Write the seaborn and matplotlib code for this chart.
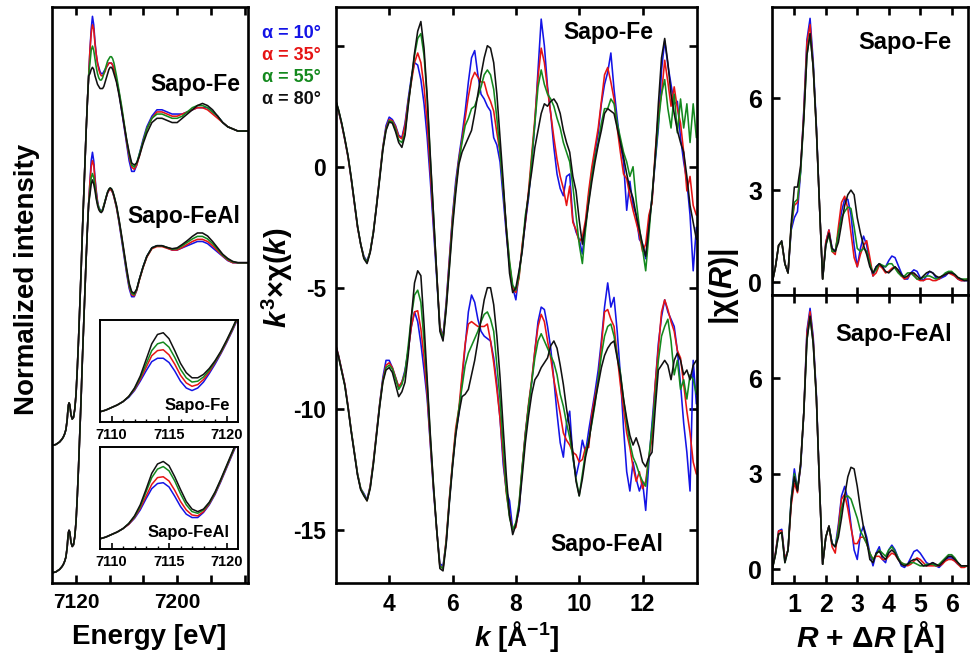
import numpy as np
import pandas as pd
import matplotlib
matplotlib.use("Agg")
import matplotlib.pyplot as plt
import seaborn as sns

# ---------------------------------------------------------------- data
ANGLES = ["10", "35", "55", "80"]
PALETTE = {"10": "#1414e6", "35": "#e61414", "55": "#14891e", "80": "#111111"}
LEGEND_LABELS = ["α = 10°", "α = 35°", "α = 55°", "α = 80°"]

# XANES: common pre-edge / edge rise, then angle-dependent white line and post-edge
xanes_E_edge = [7101, 7104, 7107, 7109, 7110, 7111, 7112, 7113, 7113.5, 7114, 7114.5, 7115,
                7115.5, 7116, 7117, 7118, 7119, 7120, 7121, 7122, 7123, 7124, 7125, 7126,
                7127, 7128, 7129, 7130]
xanes_edge_norm = [0.0, 0.002, 0.008, 0.015, 0.02, 0.027, 0.037, 0.06, 0.08, 0.095, 0.1, 0.096,
                   0.085, 0.072, 0.062, 0.066, 0.085, 0.12, 0.18, 0.25, 0.33, 0.41, 0.5, 0.58,
                   0.66, 0.74, 0.81, 0.87]
xanes_E_post = [7131, 7132, 7133, 7134, 7135, 7136, 7137, 7138, 7139, 7140,
                7141, 7142, 7143, 7144, 7145, 7146, 7147, 7148, 7149, 7150,
                7152, 7154, 7156, 7158, 7160, 7162, 7164, 7166, 7168, 7170,
                7173, 7176,
                7180, 7184, 7188, 7192, 7196, 7200, 7204, 7208, 7212, 7216,
                7220, 7224, 7228, 7232, 7236, 7240, 7244, 7248, 7252, 7256]

xanes_fe = {
    "10": [0.93, 0.98, 1.01, 0.99, 0.95, 0.92, 0.90, 0.89, 0.88, 0.875,
           0.875, 0.88, 0.885, 0.89, 0.895, 0.9, 0.9, 0.9, 0.895, 0.885,
           0.86, 0.83, 0.79, 0.75, 0.71, 0.67, 0.645, 0.645, 0.66, 0.685,
           0.72, 0.75,
           0.775, 0.79, 0.79, 0.785, 0.78, 0.78, 0.78, 0.785, 0.79, 0.795,
           0.795, 0.795, 0.785, 0.775, 0.76, 0.75, 0.745, 0.74, 0.74, 0.74],
    "35": [0.93, 0.97, 0.99, 0.98, 0.945, 0.92, 0.90, 0.885, 0.875, 0.87,
           0.87, 0.875, 0.88, 0.89, 0.895, 0.9, 0.9, 0.9, 0.895, 0.885,
           0.86, 0.83, 0.795, 0.755, 0.715, 0.68, 0.655, 0.65, 0.66, 0.68,
           0.715, 0.745,
           0.77, 0.785, 0.785, 0.78, 0.775, 0.775, 0.78, 0.785, 0.79, 0.795,
           0.795, 0.79, 0.78, 0.77, 0.76, 0.75, 0.745, 0.74, 0.74, 0.74],
    "55": [0.9, 0.93, 0.94, 0.93, 0.91, 0.89, 0.875, 0.865, 0.86, 0.86,
           0.865, 0.875, 0.885, 0.895, 0.905, 0.91, 0.915, 0.915, 0.91, 0.9,
           0.87, 0.835, 0.8, 0.76, 0.72, 0.685, 0.66, 0.655, 0.665, 0.685,
           0.715, 0.745,
           0.77, 0.78, 0.78, 0.775, 0.77, 0.77, 0.775, 0.785, 0.795, 0.8,
           0.8, 0.795, 0.785, 0.775, 0.76, 0.75, 0.745, 0.74, 0.74, 0.74],
    "80": [0.875, 0.885, 0.89, 0.885, 0.87, 0.86, 0.85, 0.845, 0.84, 0.84,
           0.84, 0.845, 0.855, 0.865, 0.875, 0.885, 0.89, 0.89, 0.885, 0.875,
           0.855, 0.825, 0.79, 0.755, 0.72, 0.69, 0.665, 0.66, 0.665, 0.68,
           0.71, 0.735,
           0.76, 0.77, 0.77, 0.765, 0.76, 0.76, 0.77, 0.78, 0.79, 0.8,
           0.805, 0.8, 0.79, 0.775, 0.76, 0.75, 0.745, 0.74, 0.74, 0.74],
}
xanes_feal = {
    "10": [0.92, 0.97, 0.99, 0.97, 0.93, 0.9, 0.875, 0.86, 0.855, 0.85,
           0.855, 0.865, 0.875, 0.885, 0.895, 0.9, 0.905, 0.9, 0.895, 0.885,
           0.86, 0.825, 0.785, 0.745, 0.705, 0.67, 0.65, 0.65, 0.665, 0.69,
           0.72, 0.745,
           0.765, 0.77, 0.77, 0.765, 0.76, 0.76, 0.765, 0.77, 0.775, 0.78,
           0.78, 0.775, 0.765, 0.755, 0.745, 0.735, 0.73, 0.73, 0.73, 0.73],
    "35": [0.92, 0.955, 0.97, 0.96, 0.925, 0.895, 0.872, 0.858, 0.852, 0.85,
           0.855, 0.865, 0.875, 0.885, 0.895, 0.9, 0.903, 0.9, 0.895, 0.885,
           0.86, 0.827, 0.79, 0.75, 0.71, 0.675, 0.655, 0.652, 0.665, 0.688,
           0.718, 0.743,
           0.763, 0.768, 0.768, 0.764, 0.76, 0.76, 0.766, 0.773, 0.78, 0.785,
           0.785, 0.78, 0.77, 0.758, 0.746, 0.736, 0.73, 0.73, 0.73, 0.73],
    "55": [0.9, 0.93, 0.94, 0.93, 0.91, 0.885, 0.87, 0.86, 0.853, 0.85,
           0.855, 0.865, 0.876, 0.887, 0.897, 0.903, 0.906, 0.904, 0.898, 0.888,
           0.863, 0.83, 0.792, 0.752, 0.713, 0.678, 0.658, 0.655, 0.667, 0.69,
           0.72, 0.745,
           0.765, 0.77, 0.77, 0.766, 0.762, 0.763, 0.77, 0.778, 0.786, 0.792,
           0.792, 0.786, 0.775, 0.762, 0.748, 0.738, 0.732, 0.73, 0.73, 0.73],
    "80": [0.89, 0.915, 0.925, 0.915, 0.9, 0.88, 0.865, 0.855, 0.85, 0.848,
           0.852, 0.862, 0.874, 0.886, 0.896, 0.903, 0.906, 0.904, 0.898, 0.888,
           0.865, 0.832, 0.795, 0.756, 0.717, 0.682, 0.662, 0.658, 0.668, 0.69,
           0.72, 0.745,
           0.765, 0.77, 0.77, 0.766, 0.763, 0.765, 0.773, 0.782, 0.792, 0.8,
           0.8, 0.793, 0.78, 0.765, 0.75, 0.74, 0.733, 0.73, 0.73, 0.73],
}
XANES_FE_SHIFT = 0.3  # vertical shift of the Sapo-Fe spectra

# pre-edge detail (insets)
pre_E = [7109.0, 7109.5, 7110.0, 7110.5, 7111.0, 7111.5, 7112.0, 7112.5, 7113.0, 7113.5,
         7114.0, 7114.5, 7115.0, 7115.5, 7116.0, 7116.5, 7117.0, 7117.5, 7118.0, 7118.5,
         7119.0, 7119.5, 7120.0, 7120.5, 7121.0]
pre_fe = {
    "10": [0.022, 0.024, 0.027, 0.030, 0.034, 0.039, 0.047, 0.058, 0.070, 0.081, 0.085, 0.085, 0.080,
           0.070, 0.058, 0.050, 0.047, 0.050, 0.057, 0.067, 0.078, 0.090, 0.103, 0.117, 0.132],
    "35": [0.022, 0.024, 0.027, 0.030, 0.034, 0.040, 0.048, 0.060, 0.074, 0.088, 0.094, 0.095, 0.089,
           0.078, 0.065, 0.056, 0.052, 0.054, 0.060, 0.069, 0.080, 0.091, 0.104, 0.118, 0.133],
    "55": [0.022, 0.024, 0.027, 0.030, 0.034, 0.040, 0.049, 0.062, 0.078, 0.094, 0.102, 0.104, 0.098,
           0.086, 0.072, 0.062, 0.057, 0.058, 0.063, 0.071, 0.081, 0.092, 0.105, 0.119, 0.134],
    "80": [0.022, 0.024, 0.027, 0.030, 0.034, 0.040, 0.050, 0.064, 0.083, 0.102, 0.113, 0.115, 0.108,
           0.094, 0.079, 0.068, 0.062, 0.062, 0.066, 0.073, 0.082, 0.093, 0.106, 0.120, 0.135],
}
pre_feal = {
    "10": [0.022, 0.024, 0.027, 0.030, 0.034, 0.039, 0.046, 0.056, 0.069, 0.081, 0.087, 0.088, 0.083,
           0.072, 0.060, 0.051, 0.047, 0.047, 0.053, 0.062, 0.074, 0.089, 0.105, 0.121, 0.137],
    "35": [0.022, 0.024, 0.027, 0.030, 0.034, 0.039, 0.047, 0.058, 0.072, 0.086, 0.094, 0.095, 0.090,
           0.079, 0.066, 0.056, 0.050, 0.049, 0.054, 0.063, 0.075, 0.090, 0.106, 0.122, 0.138],
    "55": [0.022, 0.024, 0.027, 0.030, 0.034, 0.040, 0.048, 0.060, 0.077, 0.094, 0.104, 0.107, 0.102,
           0.090, 0.075, 0.062, 0.054, 0.052, 0.056, 0.064, 0.076, 0.091, 0.107, 0.123, 0.139],
    "80": [0.022, 0.024, 0.027, 0.030, 0.034, 0.040, 0.049, 0.062, 0.080, 0.099, 0.110, 0.113, 0.108,
           0.095, 0.080, 0.066, 0.057, 0.054, 0.057, 0.065, 0.077, 0.092, 0.108, 0.124, 0.140],
}

# EXAFS k^3 chi(k), k = 2.3 ... 13.7 in steps of 0.1
k_grid = np.round(np.arange(2.3, 13.75, 0.1), 1)
chi_fe = {
    "10": [2.75, 2.3, 1.75, 1.1, 0.4, -0.5, -1.5, -2.5, -3.2, -3.7,
           -3.9, -3.5, -2.7, -1.6, -0.4, 0.8, 1.7, 2.05, 1.95, 1.7,
           1.3, 1.2, 1.8, 2.8, 3.7, 4.3, 4.2, 3.6, 2.6, 1.2,
           -0.6, -2.6, -4.6, -6.6, -7.0, -5.6, -3.8, -2.0, -0.6, 0.4,
           1.3, 2.3, 3.5, 4.5, 4.8, 3.8, 3.0, 2.8, 2.5, 2.3,
           1.2, 0.9, 0.2, -1.3, -2.8, -4.1, -5.0, -5.5, -4.4, -3.4,
           -2.3, -1.3, 0.2, 1.8, 4.0, 6.1, 5.0, 3.3, 2.2, 0.8,
           -0.3, -0.9, -1.2, -0.4, -0.3, -2.2, -2.7, -3.0, -3.6, -2.4,
           -1.2, -0.2, 0.6, 1.4, 2.6, 3.4, 3.9, 4.7, 3.2, 2.0,
           0.9, 0.2, -1.8, -0.6, -1.6, -2.0, -3.0, -3.2, -3.8, -2.4,
           -1.3, 0.2, 1.6, 4.0, 5.2, 4.2, 3.4, 2.6, 2.7, 1.2,
           0.2, -0.6, -2.0, -4.3, -2.5],
    "35": [2.75, 2.3, 1.75, 1.1, 0.4, -0.5, -1.5, -2.5, -3.2, -3.75,
           -3.95, -3.5, -2.7, -1.6, -0.4, 0.8, 1.6, 1.95, 1.9, 1.65,
           1.25, 1.15, 1.7, 2.7, 3.5, 4.3, 4.7, 4.3, 3.3, 1.8,
           -0.2, -2.3, -4.4, -6.6, -7.1, -5.7, -3.9, -2.1, -0.8, 0.3,
           1.1, 2.0, 2.9, 3.6, 3.9, 3.7, 3.5, 3.5, 3.0, 2.7,
           2.3, 1.4, 0.6, -0.9, -2.6, -4.0, -5.0, -5.2, -4.6, -3.2,
           -2.3, -1.0, 0.5, 2.0, 3.7, 4.9, 4.3, 3.2, 2.2, 1.2,
           0.3, -0.4, -0.9, -1.6, -0.8, -2.3, -2.6, -3.1, -2.9, -2.2,
           -1.0, 0.0, 0.8, 1.6, 2.7, 3.8, 4.1, 3.5, 2.8, 1.6,
           0.6, -0.3, -0.5, -1.2, -1.8, -2.3, -2.8, -3.5, -3.2, -2.0,
           -1.5, 0.6, 2.2, 3.0, 4.4, 3.5, 2.5, 3.3, 2.4, 1.8,
           0.6, -1.0, -0.4, -1.6, -2.0],
    "55": [2.8, 2.35, 1.8, 1.15, 0.45, -0.45, -1.45, -2.45, -3.2, -3.75,
           -3.95, -3.5, -2.7, -1.6, -0.45, 0.75, 1.55, 1.9, 1.85, 1.55,
           1.1, 1.0, 1.4, 2.6, 3.6, 4.6, 5.3, 5.5, 4.6, 2.8,
           0.3, -2.0, -4.4, -6.7, -7.1, -5.8, -4.1, -2.3, -0.9, 0.2,
           1.0, 1.7, 2.0, 2.4, 2.5, 2.9, 3.3, 3.8, 4.0, 3.8,
           3.2, 2.0, 0.6, -0.9, -2.5, -3.9, -4.9, -5.1, -4.5, -3.4,
           -2.0, -1.2, 0.3, 1.8, 3.3, 4.0, 3.4, 3.0, 2.8, 2.5,
           2.0, 1.6, 1.0, 0.6, 0.2, -0.8, -2.0, -3.2, -4.0, -2.6,
           -1.4, -0.4, 0.4, 1.0, 1.8, 2.4, 2.4, 2.8, 2.6, 1.8,
           1.2, 0.6, 0.2, -0.4, 0.0, -1.4, -2.5, -3.4, -4.3, -2.8,
           -1.2, 0.3, 1.8, 3.0, 3.6, 2.4, 1.6, 3.0, 1.4, 2.8,
           1.6, 2.6, 1.0, 2.6, 1.2],
    "80": [2.8, 2.35, 1.8, 1.15, 0.45, -0.45, -1.45, -2.45, -3.2, -3.8,
           -4.0, -3.55, -2.75, -1.65, -0.5, 0.7, 1.5, 1.85, 1.8, 1.45,
           1.0, 0.8, 1.3, 2.5, 3.6, 4.7, 5.6, 6.0, 4.9, 2.9,
           0.4, -2.0, -4.4, -6.8, -7.2, -5.9, -4.2, -2.5, -1.1, 0.1,
           0.6, 0.9, 1.2, 1.5, 2.2, 3.0, 3.8, 4.5, 5.0, 4.9,
           4.3, 3.0, 1.2, -0.6, -2.6, -4.4, -5.2, -5.0, -4.3, -3.5,
           -2.2, -1.1, -0.2, 0.8, 1.5, 2.2, 2.6, 2.5, 2.7, 2.8,
           2.6, 2.2, 1.5, 1.0, 0.6, -0.4, -1.0, -2.2, -3.2, -2.4,
           -1.5, -0.6, 0.2, 0.9, 1.5, 2.2, 2.4, 2.3, 2.2, 1.6,
           1.0, 0.4, -0.3, -0.9, -1.3, -2.0, -2.6, -3.2, -3.7, -2.5,
           -1.3, 0.4, 2.6, 4.5, 5.3, 4.3, 3.0, 2.2, 1.5, 1.0,
           0.6, -0.4, -1.6, -2.3, -3.0],
}
chi_feal = {
    "10": [-7.3, -7.8, -8.4, -9.0, -9.9, -10.9, -11.8, -12.7, -13.3, -13.5,
           -13.75, -13.2, -12.2, -11.0, -9.8, -8.7, -8.0, -8.0, -8.3, -8.7,
           -9.1, -8.9, -8.4, -7.6, -6.6, -6.0, -6.4, -7.3, -8.4, -9.6,
           -11.5, -13.4, -15.0, -16.4, -16.5, -15.5, -13.8, -12.3, -11.0, -10.2,
           -8.8, -7.4, -6.0, -5.3, -5.6, -6.3, -6.8, -7.0, -7.1, -7.2,
           -7.9, -9.0, -10.4, -12.3, -13.4, -13.8, -15.0, -14.8, -14.2, -12.5,
           -11.0, -9.9, -8.9, -7.6, -6.4, -5.8, -5.9, -6.6, -7.5, -8.8,
           -10.2, -11.4, -12.0, -10.6, -10.1, -12.0, -12.8, -12.2, -11.3, -11.8,
           -10.9, -10.1, -9.3, -8.4, -7.2, -5.8, -4.8, -5.8, -5.4, -6.8,
           -8.6, -10.8, -12.6, -13.4, -12.2, -12.9, -13.4, -13.0, -14.2, -12.2,
           -10.6, -9.0, -7.3, -6.2, -5.5, -6.0, -6.3, -6.6, -7.6, -9.0,
           -10.6, -11.8, -13.4, -8.0, -9.8],
    "35": [-7.3, -7.8, -8.4, -9.0, -9.9, -10.9, -11.8, -12.7, -13.3, -13.55,
           -13.8, -13.2, -12.2, -11.0, -9.8, -8.8, -8.2, -8.1, -8.3, -8.7,
           -9.1, -8.9, -8.5, -7.6, -6.6, -6.0, -5.95, -6.7, -7.9, -9.4,
           -11.4, -13.3, -15.0, -16.5, -16.6, -15.4, -13.7, -12.2, -10.8, -10.0,
           -8.6, -7.3, -6.5, -6.4, -6.5, -6.6, -6.6, -6.6, -6.5, -7.2,
           -8.1, -9.2, -10.4, -12.0, -13.5, -14.4, -15.0, -14.9, -14.0, -12.4,
           -11.0, -9.8, -8.8, -7.6, -6.6, -6.1, -6.4, -7.2, -7.9, -8.8,
           -9.5, -10.2, -11.0, -11.3, -11.5, -11.8, -11.9, -12.2, -12.1, -11.6,
           -11.6, -10.2, -9.5, -8.8, -7.4, -6.0, -5.9, -6.3, -6.6, -7.8,
           -9.0, -10.0, -11.0, -11.6, -12.4, -13.0, -12.6, -13.3, -13.0, -12.0,
           -11.2, -9.0, -7.5, -6.0, -5.5, -5.9, -6.4, -6.8, -7.6, -7.9,
           -9.0, -10.1, -11.0, -12.2, -12.7],
    "55": [-7.35, -7.85, -8.45, -9.05, -9.95, -10.9, -11.8, -12.7, -13.3, -13.55,
           -13.8, -13.25, -12.25, -11.05, -9.85, -8.85, -8.3, -8.2, -8.35, -8.75,
           -9.2, -9.0, -8.5, -7.4, -6.2, -5.3, -5.1, -5.6, -7.2, -9.0,
           -11.2, -13.2, -15.0, -16.5, -16.6, -15.5, -13.8, -12.3, -11.0, -10.0,
           -9.1, -8.2, -7.7, -7.4, -7.1, -6.8, -6.4, -6.1, -6.0, -6.3,
           -6.8, -8.2, -9.6, -11.6, -13.4, -14.5, -15.0, -14.7, -13.9, -12.4,
           -11.1, -9.9, -8.9, -7.9, -7.2, -6.9, -7.2, -7.5, -7.8, -8.1,
           -8.6, -9.4, -9.9, -10.6, -11.2, -12.0, -12.9, -13.6, -12.7, -11.8,
           -11.3, -10.6, -9.8, -8.8, -7.8, -7.0, -6.6, -6.5, -7.0, -7.8,
           -8.5, -9.6, -10.6, -11.4, -12.0, -12.3, -12.7, -13.0, -13.2, -12.0,
           -10.8, -9.5, -8.0, -7.0, -6.6, -6.3, -7.2, -8.6, -8.0, -9.2,
           -8.8, -9.6, -8.6, -8.8, -9.4],
    "80": [-7.35, -7.85, -8.45, -9.05, -9.95, -10.95, -11.85, -12.75, -13.35, -13.6,
           -13.8, -13.3, -12.3, -11.1, -9.9, -8.9, -8.4, -8.3, -8.5, -9.0,
           -9.5, -9.3, -8.9, -7.8, -6.2, -4.8, -4.3, -4.5, -6.5, -8.8,
           -11.1, -13.2, -15.0, -16.6, -16.7, -15.6, -13.9, -12.4, -11.1, -10.2,
           -9.5, -9.4, -9.2, -8.6, -8.0, -7.2, -6.3, -5.5, -5.0, -5.0,
           -5.7, -7.0, -8.7, -10.8, -12.8, -14.4, -15.2, -14.8, -14.1, -12.8,
           -11.4, -10.3, -9.4, -8.8, -8.6, -8.3, -8.1, -7.9, -7.4, -7.2,
           -7.5, -8.2, -9.0, -10.0, -10.8, -11.8, -13.0, -13.6, -12.9, -12.0,
           -11.4, -10.5, -9.7, -9.0, -8.3, -7.8, -7.5, -7.3, -7.2, -7.9,
           -8.6, -9.6, -10.4, -11.1, -11.5, -11.2, -11.6, -12.2, -12.4, -12.0,
           -11.8, -10.0, -8.4, -8.2, -8.0, -8.2, -8.8, -8.0, -7.7, -8.0,
           -8.6, -8.4, -8.8, -8.2, -8.0],
}

# Fourier transform magnitude |chi(R)|, R = 0.3 ... 6.5 in steps of 0.1
r_grid = np.round(np.arange(0.3, 6.55, 0.1), 1)
ft_fe = {
    "10": [0.0, 0.5, 1.2, 1.3, 0.6, 0.3, 1.7, 2.1, 2.3, 3.6, 5.6, 7.9, 8.6, 7.2, 5.1, 2.5, 0.1,
           1.3, 1.7, 1.1, 1.0, 1.6, 2.3, 2.7, 2.7, 2.2, 1.2, 0.5, 1.1, 1.5, 1.2, 0.6, 0.2,
           0.5, 0.6, 0.5, 0.5, 0.7, 0.85, 0.8, 0.55, 0.3, 0.1, 0.1, 0.3, 0.4, 0.35, 0.15, 0.05,
           0.2, 0.35, 0.3, 0.15, 0.1, 0.15, 0.2, 0.3, 0.3, 0.2, 0.1, 0.05, 0.05, 0.05],
    "35": [0.0, 0.5, 1.2, 1.3, 0.6, 0.3, 1.8, 2.5, 2.6, 3.7, 5.5, 7.8, 8.4, 7.0, 5.0, 2.5, 0.1,
           1.3, 1.7, 1.0, 0.9, 1.8, 2.6, 2.8, 2.4, 1.6, 0.8, 0.5, 0.9, 1.2, 1.35, 0.8, 0.2,
           0.3, 0.55, 0.45, 0.3, 0.35, 0.45, 0.5, 0.35, 0.2, 0.1, 0.15, 0.3, 0.25, 0.1, 0.05, 0.05,
           0.1, 0.1, 0.05, 0.05, 0.1, 0.2, 0.25, 0.3, 0.25, 0.2, 0.1, 0.05, 0.05, 0.1],
    "55": [0.0, 0.5, 1.2, 1.3, 0.6, 0.3, 1.8, 2.6, 2.7, 3.6, 5.3, 7.4, 8.1, 7.0, 5.0, 2.5, 0.1,
           1.2, 1.55, 1.0, 1.0, 1.6, 2.1, 2.3, 2.45, 2.4, 1.8, 1.1, 1.0, 1.1, 1.0, 0.6, 0.3,
           0.4, 0.6, 0.55, 0.5, 0.6, 0.6, 0.45, 0.3, 0.2, 0.2, 0.3, 0.3, 0.2, 0.1, 0.1, 0.15,
           0.2, 0.2, 0.15, 0.1, 0.15, 0.2, 0.3, 0.35, 0.35, 0.25, 0.15, 0.1, 0.1, 0.1],
    "80": [0.0, 0.5, 1.2, 1.35, 0.6, 0.3, 1.9, 3.1, 3.1, 3.8, 5.3, 7.4, 8.1, 7.0, 5.0, 2.5, 0.1,
           1.2, 1.6, 1.1, 1.0, 1.3, 1.9, 2.5, 2.85, 3.0, 2.85, 2.1, 1.6, 1.2, 0.9, 0.5, 0.3,
           0.5, 0.6, 0.5, 0.35, 0.3, 0.4, 0.5, 0.4, 0.25, 0.15, 0.2, 0.3, 0.3, 0.2, 0.1, 0.2,
           0.3, 0.35, 0.3, 0.2, 0.15, 0.2, 0.25, 0.3, 0.3, 0.25, 0.15, 0.1, 0.05, 0.05],
}
ft_feal = {
    "10": [0.0, 0.5, 1.2, 1.25, 0.3, 0.6, 2.2, 3.15, 2.5, 3.2, 4.9, 7.5, 8.2, 7.3, 5.5, 2.6, 0.15,
           1.0, 1.35, 0.8, 0.7, 1.4, 2.3, 2.6, 2.2, 1.4, 0.6, 0.3, 1.1, 1.35, 1.0, 0.5, 0.1,
           0.5, 0.7, 0.3, 0.2, 0.6, 0.75, 0.6, 0.35, 0.1, 0.05, 0.15, 0.35, 0.55, 0.6, 0.5, 0.35,
           0.2, 0.15, 0.2, 0.1, 0.05, 0.15, 0.3, 0.35, 0.35, 0.25, 0.15, 0.1, 0.1, 0.1],
    "35": [0.0, 0.5, 1.2, 1.2, 0.3, 0.6, 2.0, 2.7, 2.4, 3.3, 4.9, 7.4, 8.1, 7.2, 5.4, 2.6, 0.15,
           1.0, 1.35, 0.7, 0.5, 1.3, 2.2, 2.35, 1.9, 1.3, 0.8, 0.8, 1.0, 1.0, 0.8, 0.5, 0.3,
           0.4, 0.4, 0.3, 0.3, 0.4, 0.5, 0.45, 0.3, 0.2, 0.15, 0.1, 0.15, 0.25, 0.35, 0.3, 0.2,
           0.1, 0.1, 0.1, 0.1, 0.1, 0.15, 0.25, 0.3, 0.3, 0.25, 0.15, 0.05, 0.05, 0.1],
    "55": [0.0, 0.45, 1.1, 1.15, 0.2, 0.6, 2.2, 3.0, 2.5, 3.3, 4.9, 7.2, 7.95, 7.1, 5.4, 2.6, 0.15,
           1.0, 1.35, 0.8, 0.7, 1.2, 1.9, 2.25, 2.3, 2.2, 1.9, 1.6, 1.2, 1.0, 0.8, 0.5, 0.3,
           0.45, 0.6, 0.5, 0.4, 0.6, 0.7, 0.55, 0.35, 0.2, 0.15, 0.15, 0.2, 0.2, 0.15, 0.1, 0.1,
           0.15, 0.15, 0.15, 0.1, 0.15, 0.25, 0.35, 0.45, 0.45, 0.35, 0.2, 0.1, 0.1, 0.1],
    "80": [0.0, 0.45, 1.1, 1.15, 0.2, 0.6, 2.1, 2.9, 2.45, 3.3, 4.9, 7.2, 7.95, 7.1, 5.4, 2.6, 0.15,
           1.0, 1.35, 0.8, 0.7, 1.0, 1.6, 2.3, 2.9, 3.2, 3.15, 2.6, 1.9, 1.3, 0.9, 0.3, 0.2,
           0.5, 0.55, 0.4, 0.3, 0.5, 0.6, 0.5, 0.3, 0.15, 0.1, 0.15, 0.25, 0.3, 0.3, 0.2, 0.1,
           0.1, 0.15, 0.2, 0.15, 0.1, 0.2, 0.3, 0.4, 0.4, 0.3, 0.2, 0.1, 0.1, 0.1],
}

# ---------------------------------------------------------------- style
sns.set_theme(style="ticks")
plt.rcParams["font.family"] = ["Liberation Sans", "DejaVu Sans"]
plt.rcParams["font.weight"] = "bold"
plt.rcParams["mathtext.fontset"] = "custom"
plt.rcParams["mathtext.rm"] = "Liberation Sans:bold"
plt.rcParams["mathtext.it"] = "Liberation Sans:italic:bold"
plt.rcParams["mathtext.bf"] = "Liberation Sans:bold"
for key in ("text.color", "axes.labelcolor", "xtick.color", "ytick.color", "axes.edgecolor"):
    plt.rcParams[key] = "black"

W, H = 971, 661
fig = plt.figure(figsize=(W / 100, H / 100), dpi=100)
fig.patch.set_facecolor("white")


def box(x0, y0, x1, y1):
    """Axes rectangle given pixel edges (top-left origin)."""
    return [x0 / W, 1 - y1 / H, (x1 - x0) / W, (y1 - y0) / H]


def px(x, y):
    return x / W, 1 - y / H


def draw(ax, x, series, shift=0.0, lw=1.15):
    frames = [pd.DataFrame({"x": x, "y": np.asarray(series[a], float) + shift, "angle": a})
              for a in ANGLES]
    df = pd.concat(frames, ignore_index=True)
    sns.lineplot(data=df, x="x", y="y", hue="angle", hue_order=ANGLES, palette=PALETTE,
                 sort=False, estimator=None, lw=lw, legend=False, ax=ax)
    ax.set_xlabel("")
    ax.set_ylabel("")


def frame(ax, lw=1.9):
    ax.set_facecolor("white")
    for s in ax.spines.values():
        s.set_visible(True)
        s.set_color("black")
        s.set_linewidth(lw)


def tick(size):
    return dict(direction="in", width=1.9, length=6, color="black", labelsize=size, pad=7)


# ---------------------------------------------------------------- XANES
ax1 = fig.add_axes(box(52, 7, 248, 583))
E_full = xanes_E_edge + xanes_E_post
draw(ax1, E_full, {a: xanes_edge_norm + xanes_feal[a] for a in ANGLES})
draw(ax1, E_full, {a: xanes_edge_norm + xanes_fe[a] for a in ANGLES}, shift=XANES_FE_SHIFT)
frame(ax1)
ax1.set_xlim(7101, 7256)
ax1.set_ylim(-0.024, 1.332)
e_ticks = [7120 + i * 80 / 3 for i in range(6)]
ax1.set_xticks(e_ticks)
ax1.set_xticklabels(["7120", "", "", "7200", "", ""])
ax1.set_yticks([])
ax1.tick_params(axis="x", top=True, bottom=True, **tick(15))
ax1.text(0.96, 1 - 77 / 576, "Sapo-Fe", transform=ax1.transAxes, ha="right", va="center",
         fontsize=16.5, fontweight="bold")
ax1.text(0.96, 1 - 210 / 576, "Sapo-FeAl", transform=ax1.transAxes, ha="right", va="center",
         fontsize=16.5, fontweight="bold")

for (y0, y1, data, name) in [(320, 422, pre_fe, "Sapo-Fe"), (447, 549, pre_feal, "Sapo-FeAl")]:
    ins = fig.add_axes(box(100, y0, 238, y1))
    draw(ins, pre_E, data, lw=1.1)
    frame(ins, lw=1.4)
    ins.set_xlim(7109.0, 7121.0)
    ins.set_ylim(0.01, 0.13)
    ins.set_yticks([])
    ins.set_xticks([7110, 7115, 7120])
    ins.set_xticks(np.arange(7110, 7121, 1.0), minor=True)
    ins.tick_params(axis="x", which="major", direction="in", length=4, width=1.2,
                    labelsize=10.5, pad=4, color="black")
    ins.tick_params(axis="x", which="minor", direction="in", length=2.5, width=1.0, color="black")
    ins.text(0.94, 0.16, name, transform=ins.transAxes, ha="right", va="center",
             fontsize=12, fontweight="bold")

# ---------------------------------------------------------------- k space
ax2 = fig.add_axes(box(336, 7, 697, 583))
draw(ax2, k_grid, chi_fe)
draw(ax2, k_grid, chi_feal)
frame(ax2)
ax2.set_xlim(2.32, 13.72)
ax2.set_ylim(-17.2, 6.6)
ax2.set_xticks([4, 6, 8, 10, 12])
ax2.set_yticks([5, 0, -5, -10, -15])
ax2.set_yticklabels(["", "0", "-5", "-10", "-15"])
ax2.tick_params(top=True, bottom=True, left=True, right=True, **tick(16.5))
fig.text(*px(608, 33), "Sapo-Fe", ha="center", va="center", fontsize=16.5, fontweight="bold")
fig.text(*px(607, 545), "Sapo-FeAl", ha="center", va="center", fontsize=16.5, fontweight="bold")

# ---------------------------------------------------------------- R space
axr1 = fig.add_axes(box(772, 7, 968, 295))
axr2 = fig.add_axes(box(772, 295, 968, 583))
for ax, data, name, lx, ty, ylim in [(axr1, ft_fe, "Sapo-Fe", 905, 42, (-0.42, 8.97)),
                                     (axr2, ft_feal, "Sapo-FeAl", 894, 335, (-0.44, 8.62))]:
    draw(ax, r_grid, data)
    frame(ax)
    ax.set_xlim(0.29, 6.52)
    ax.set_ylim(*ylim)
    ax.set_xticks([1, 2, 3, 4, 5, 6])
    ax.set_yticks([0, 3, 6])
    ax.tick_params(top=True, bottom=True, left=True, right=False, **tick(18))
    fig.text(*px(lx, ty), name, ha="center", va="center", fontsize=17, fontweight="bold")
axr1.tick_params(labelbottom=False)

# ---------------------------------------------------------------- labels and legend
fig.text(*px(27, 279), "Normalized intensity", rotation=90, ha="center", va="center",
         fontsize=20, fontweight="bold")
fig.text(*px(149, 637), "Energy [eV]", ha="center", va="center", fontsize=20, fontweight="bold")
fig.text(*px(277, 278), r"$k^3$×χ($k$)", rotation=90, ha="center", va="center",
         fontsize=21, fontweight="bold")
fig.text(*px(517, 637), r"$k$ [Å$^{-1}$]", ha="center", va="center", fontsize=20,
         fontweight="bold")
fig.text(*px(870, 637), r"$R$ + Δ$R$ [Å]", ha="center", va="center", fontsize=21.5,
         fontweight="bold")
fig.text(*px(724, 287), r"|χ($R$)|", rotation=90, ha="center", va="center", fontsize=22,
         fontweight="bold")

for i, (a, lab) in enumerate(zip(ANGLES, LEGEND_LABELS)):
    fig.text(*px(262, 33 + i * 22), lab, color=PALETTE[a], ha="left", va="center",
             fontsize=13, fontweight="bold")

fig.savefig("out.png", dpi=100, facecolor="white")
